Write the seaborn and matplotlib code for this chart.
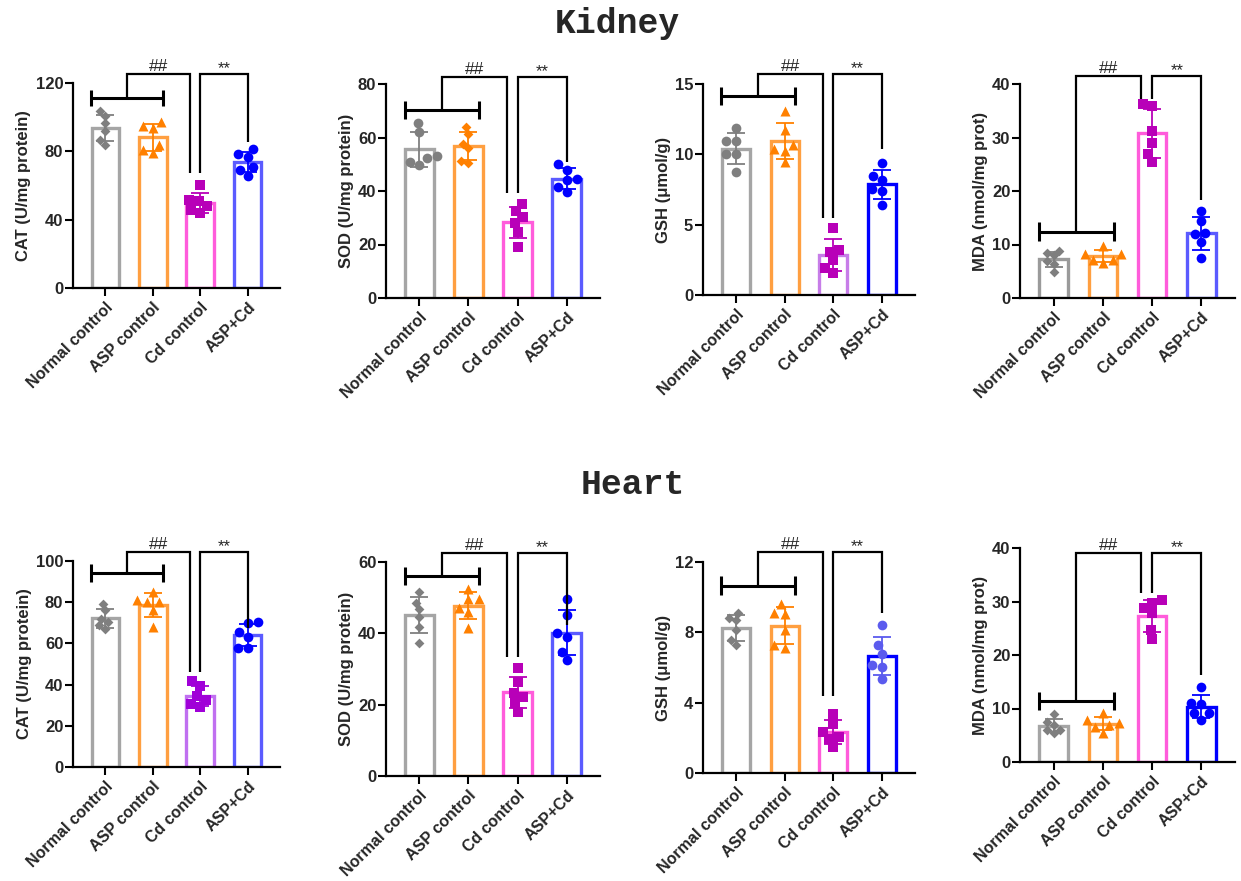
import numpy as np
import pandas as pd
import matplotlib
matplotlib.use("Agg")
import matplotlib.pyplot as plt
import seaborn as sns

groups = ["Normal control", "ASP control", "Cd control", "ASP+Cd"]

# individual values, 6 per group
kidney_cat = [[100.5, 103.4, 92.1, 83.5, 86.4, 96.3],
              [95.0, 97.0, 93.7, 79.0, 83.9, 81.0],
              [60.5, 50.7, 51.3, 47.8, 43.9, 45.5],
              [81.6, 78.4, 76.7, 70.8, 65.8, 69.3]]
kidney_sod = [[65.6, 62.0, 53.1, 49.8, 52.3, 51.0],
              [61.4, 63.8, 56.0, 57.6, 51.3, 50.6],
              [32.5, 35.1, 28.1, 30.1, 24.8, 19.1],
              [50.1, 47.9, 44.4, 44.1, 39.8, 41.6]]
kidney_gsh = [[11.84, 10.92, 10.92, 10.04, 10.04, 8.71],
              [13.05, 11.75, 10.37, 10.68, 10.21, 9.49],
              [4.79, 3.20, 3.09, 2.49, 1.95, 1.59],
              [9.38, 8.47, 8.14, 7.52, 7.36, 6.41]]
kidney_mda = [[8.0, 8.8, 8.4, 6.3, 6.9, 4.9],
              [9.7, 8.3, 8.3, 7.1, 6.5, 7.1],
              [35.8, 36.3, 31.3, 28.9, 25.4, 26.9],
              [16.3, 14.4, 12.2, 11.9, 10.5, 7.4]]
heart_cat = [[79.3, 76.1, 72.0, 68.8, 70.4, 67.2],
             [85.0, 81.2, 80.1, 80.1, 76.1, 68.0],
             [41.6, 39.2, 34.3, 32.7, 30.7, 29.1],
             [69.9, 70.4, 63.1, 65.5, 57.9, 57.9]]
heart_sod = [[51.7, 48.5, 46.8, 44.5, 41.9, 37.4],
             [52.4, 49.6, 49.6, 46.1, 41.4, 47.1],
             [30.2, 26.4, 22.2, 23.3, 20.5, 18.0],
             [49.6, 45.2, 38.9, 40.0, 32.5, 34.9]]
heart_gsh = [[9.10, 8.83, 8.72, 8.15, 7.26, 7.54],
             [9.59, 9.10, 9.06, 8.15, 7.13, 7.26],
             [3.37, 2.33, 2.77, 2.05, 1.95, 1.48],
             [8.44, 7.26, 6.75, 6.12, 6.03, 5.36]]
heart_mda = [[8.9, 7.4, 7.0, 5.5, 5.9, 6.0],
             [9.1, 7.8, 7.2, 6.9, 6.6, 5.4],
             [29.8, 30.2, 27.8, 28.8, 22.9, 24.6],
             [14.1, 10.9, 11.1, 7.9, 9.1, 9.1]]

ylabels = ["CAT (U/mg protein)", "SOD (U/mg protein)", "GSH (μmol/g)", "MDA (nmol/mg prot)"]
kidney_yticks = [[0, 40, 80, 120], [0, 20, 40, 60, 80], [0, 5, 10, 15], [0, 10, 20, 30, 40]]
heart_yticks = [[0, 20, 40, 60, 80, 100], [0, 20, 40, 60], [0, 4, 8, 12], [0, 10, 20, 30, 40]]

# significance bracket levels: (pair line, cap half, top, ## / ** left leg end, ** right leg end)
kidney_brackets = [(111.2, 4.7, 125.3, 67.3, 85.6), (70.3, 3.5, 82.7, 39.2, 51.0),
                   (14.14, 0.63, 15.7, 5.45, 10.35), (12.4, 1.8, 41.5, 37.2, 18.3)]
heart_brackets = [(94.0, 4.4, 104.2, 46.3, 67.3), (56.1, 2.5, 62.4, 33.4, 42.3),
                  (10.64, 0.54, 12.55, 4.4, 9.08), (11.4, 1.7, 39.1, 31.5, 16.3)]

BAR = ["#A5A5A5", "#FF9F40", "#FF5CDB", "#5B5BFF"]
PT = ["#7F7F7F", "#FF8000", "#B800B8", "#0000FF"]

panels = [
    # (values, ylabel, yticks, brackets, markers, bar colors, point colors, box px)
    (kidney_cat, ylabels[0], kidney_yticks[0], kidney_brackets[0], "D^so", BAR, PT, (73, 280, 83, 288)),
    (kidney_sod, ylabels[1], kidney_yticks[1], kidney_brackets[1], "oDso", BAR, PT, (386, 600, 84, 298)),
    (kidney_gsh, ylabels[2], kidney_yticks[2], kidney_brackets[2], "o^so",
     ["#A5A5A5", "#FF9F40", "#C77DE8", "#0000FF"], PT, (703, 915, 84, 295)),
    (kidney_mda, ylabels[3], kidney_yticks[3], kidney_brackets[3], "D^so",
     ["#9A9A9A", "#FF9F40", "#FF5CDB", "#5B5BFF"], PT, (1020, 1235, 84, 298)),
    (heart_cat, ylabels[0], heart_yticks[0], heart_brackets[0], "D^so",
     ["#A5A5A5", "#FF9F40", "#C070F0", "#5B5BFF"], ["#7F7F7F", "#FF8000", "#A000D8", "#0000FF"],
     (73, 280, 561, 767)),
    (heart_sod, ylabels[1], heart_yticks[1], heart_brackets[1], "D^so", BAR, PT, (386, 600, 562, 776)),
    (heart_gsh, ylabels[2], heart_yticks[2], heart_brackets[2], "D^so",
     ["#A5A5A5", "#FF9F40", "#FF5CDB", "#0000FF"], ["#7F7F7F", "#FF8000", "#B800B8", "#5B5BEE"],
     (703, 915, 562, 773)),
    (heart_mda, ylabels[3], heart_yticks[3], heart_brackets[3], "D^so",
     ["#A5A5A5", "#FF9F40", "#FF5CDB", "#0000FF"], PT, (1020, 1235, 548, 762)),
]

MSIZE = {"o": 7.0, "s": 6.6, "^": 7.2, "D": 5.0}

sns.set_style("ticks")
plt.rcParams["font.family"] = ["Liberation Sans", "DejaVu Sans"]
plt.rcParams["font.weight"] = "bold"
plt.rcParams["axes.labelweight"] = "bold"

W, H = 1241, 881
fig = plt.figure(figsize=(W / 100, H / 100), dpi=100)


def draw_brackets(ax, br):
    low, cap, top, left_end, star_end = br
    thick = dict(color="black", lw=2.2, clip_on=False, solid_capstyle="butt", zorder=6)
    thin = dict(color="black", lw=1.6, clip_on=False, solid_capstyle="butt",
                solid_joinstyle="miter", zorder=6)
    ax.plot([-0.3, 1.22], [low, low], **thick)
    ax.plot([-0.3, -0.3], [low - cap, low + cap], **thick)
    ax.plot([1.22, 1.22], [low - cap, low + cap], **thick)
    ax.plot([0.46, 0.46, 1.78, 1.78], [low, top, top, left_end], **thin)
    ax.plot([2.0, 2.0, 3.0, 3.0], [left_end, top, top, star_end], **thin)
    ax.annotate("##", (1.12, top), xytext=(0, 0), textcoords="offset points",
                ha="center", va="bottom", fontsize=12.5, fontweight="normal", annotation_clip=False)
    ax.annotate("**", (2.5, top), xytext=(0, -1.5), textcoords="offset points",
                ha="center", va="bottom", fontsize=12, fontweight="normal", annotation_clip=False)


for values, ylabel, yticks, br, markers, bar_cols, pt_cols, box in panels:
    x0, x1, yt, yb = box
    ax = fig.add_axes([x0 / W, 1 - yb / H, (x1 - x0) / W, (yb - yt) / H])
    df = pd.DataFrame({"group": np.repeat(groups, 6), "value": np.concatenate(values)})
    sns.barplot(data=df, x="group", y="value", hue="group", order=groups, hue_order=groups,
                palette=bar_cols, saturation=1, fill=False, errorbar=None, width=0.58,
                linewidth=2.4, legend=False, ax=ax, zorder=2)
    for i, g in enumerate(groups):
        vals = np.array(values[i])
        ax.errorbar(i, vals.mean(), yerr=vals.std(ddof=1), color=pt_cols[i], capsize=6.5,
                    elinewidth=1.3, capthick=1.3, zorder=3)
        sns.swarmplot(x=[g] * len(vals), y=vals, order=groups, marker=markers[i],
                      color=pt_cols[i], size=MSIZE[markers[i]], linewidth=0, ax=ax, zorder=4)
    draw_brackets(ax, br)

    ax.set_xlim(-0.68, 3.68)
    ax.set_ylim(0, yticks[-1])
    ax.set_yticks(yticks)
    ax.set_xticks(range(4))
    ax.set_xticklabels(groups, rotation=45, ha="right", va="top", rotation_mode="anchor",
                       fontsize=11.5)
    ax.set_xlabel("")
    ax.set_ylabel(ylabel, fontsize=12, labelpad=3)
    ax.tick_params(axis="y", labelsize=12, pad=1.5)
    ax.tick_params(axis="both", width=1.5, length=5.5, color="black")
    ax.tick_params(axis="x", pad=3)
    for s in ["left", "bottom"]:
        ax.spines[s].set_linewidth(1.6)
        ax.spines[s].set_color("black")
    sns.despine(ax=ax)

fig.text(617 / W, 1 - 24 / H, "Kidney", family="Liberation Mono", fontweight="bold",
         fontsize=25, ha="center", va="center")
fig.text(633 / W, 1 - 484 / H, "Heart", family="Liberation Mono", fontweight="bold",
         fontsize=25, ha="center", va="center")

fig.savefig("out.png", dpi=100)
